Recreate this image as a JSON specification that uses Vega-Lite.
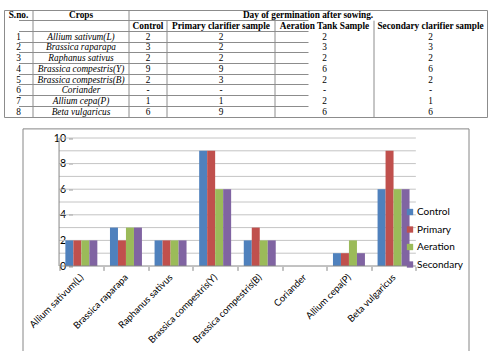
{
  "$schema": "https://vega.github.io/schema/vega-lite/v6.json",
  "background": "white",
  "padding": {"left": 3, "top": 9, "right": 0, "bottom": 0},
  "config": {
    "view": {"stroke": "#8c8c8c", "strokeWidth": 1},
    "axis": {"gridColor": "#8c8c8c", "gridWidth": 1}
  },
  "datasets": {
    "germination": [
      {"sno": 1, "crop": "Allium sativum(L)", "Control": 2, "Primary": 2, "Aeration": 2, "Secondary": 2},
      {"sno": 2, "crop": "Brassica raparapa", "Control": 3, "Primary": 2, "Aeration": 3, "Secondary": 3},
      {"sno": 3, "crop": "Raphanus sativus", "Control": 2, "Primary": 2, "Aeration": 2, "Secondary": 2},
      {"sno": 4, "crop": "Brassica compestris(Y)", "Control": 9, "Primary": 9, "Aeration": 6, "Secondary": 6},
      {"sno": 5, "crop": "Brassica compestris(B)", "Control": 2, "Primary": 3, "Aeration": 2, "Secondary": 2},
      {"sno": 6, "crop": "Coriander", "Control": null, "Primary": null, "Aeration": null, "Secondary": null},
      {"sno": 7, "crop": "Allium cepa(P)", "Control": 1, "Primary": 1, "Aeration": 2, "Secondary": 1},
      {"sno": 8, "crop": "Beta vulgaricus", "Control": 6, "Primary": 9, "Aeration": 6, "Secondary": 6}
    ],
    "headTop": [
      {"col": 1, "text": "S.no."},
      {"col": 2, "text": "Crops"},
      {"col": 3, "text": "Day of germination after sowing."}
    ],
    "headSub": [
      {"col": 3, "text": "Control"},
      {"col": 4, "text": "Primary clarifier sample"},
      {"col": 5, "text": "Aeration Tank Sample"},
      {"col": 6, "text": "Secondary clarifier sample"}
    ]
  },
  "vconcat": [
    {
      "width": 483,
      "height": 107,
      "data": {"name": "germination"},
      "resolve": {"scale": {"x": "independent"}, "axis": {"x": "independent"}},
      "layer": [
        {
          "data": {"name": "headTop"},
          "mark": {"type": "text", "font": "Liberation Serif", "fontSize": 9.3, "fontWeight": "bold", "color": "#000", "baseline": "middle"},
          "encoding": {
            "x": {"field": "col", "type": "quantitative", "axis": null,
                  "scale": {"type": "linear", "domain": [1, 2, 3], "range": [14.5, 77, 304], "zero": false, "nice": false}},
            "y": {
              "datum": -1, "type": "ordinal",
              "scale": {"type": "band", "domain": [-1, 0, 1, 2, 3, 4, 5, 6, 7, 8], "paddingInner": 0, "paddingOuter": 0},
              "axis": {"grid": true, "bandPosition": 0, "labels": false, "ticks": false, "domain": false, "title": null}
            },
            "text": {"field": "text"}
          }
        },
        {
          "data": {"name": "headSub"},
          "mark": {"type": "text", "font": "Liberation Serif", "fontSize": 9.3, "fontWeight": "bold", "color": "#000", "baseline": "middle"},
          "encoding": {
            "x": {"field": "col", "type": "quantitative", "axis": null,
                  "scale": {"type": "linear", "domain": [1, 2, 3, 4, 5, 6], "range": [14.5, 77, 144, 217, 320.5, 426.5], "zero": false, "nice": false}},
            "y": {"datum": 0, "type": "ordinal"},
            "text": {"field": "text"}
          }
        },
        {
          "mark": {"type": "text", "font": "Liberation Serif", "fontSize": 9.3, "color": "#000", "baseline": "middle"},
          "encoding": {
            "x": {"datum": 1, "type": "quantitative", "axis": null,
                  "scale": {"type": "linear", "domain": [1, 2, 3, 4, 5, 6], "range": [14.5, 77, 144, 217, 320.5, 426.5], "zero": false, "nice": false}},
            "y": {"field": "sno", "type": "ordinal"},
            "text": {"field": "sno", "type": "nominal"}
          }
        },
        {
          "mark": {"type": "text", "font": "Liberation Serif", "fontSize": 9.3, "fontStyle": "italic", "color": "#000", "baseline": "middle"},
          "encoding": {
            "x": {"datum": 2, "type": "quantitative", "axis": null,
                  "scale": {"type": "linear", "domain": [1, 2, 3, 4, 5, 6], "range": [14.5, 77, 144, 217, 320.5, 426.5], "zero": false, "nice": false}},
            "y": {"field": "sno", "type": "ordinal"},
            "text": {"field": "crop", "type": "nominal"}
          }
        },
        {
          "mark": {"type": "text", "font": "Liberation Serif", "fontSize": 9.3, "color": "#000", "baseline": "middle"},
          "encoding": {
            "x": {"datum": 3, "type": "quantitative", "axis": null,
                  "scale": {"type": "linear", "domain": [1, 2, 3, 4, 5, 6], "range": [14.5, 77, 144, 217, 320.5, 426.5], "zero": false, "nice": false}},
            "y": {"field": "sno", "type": "ordinal"},
            "text": {"field": "Control", "type": "nominal", "condition": {"test": "datum.Control == null", "value": "-"}}
          }
        },
        {
          "mark": {"type": "text", "font": "Liberation Serif", "fontSize": 9.3, "color": "#000", "baseline": "middle"},
          "encoding": {
            "x": {"datum": 4, "type": "quantitative", "axis": null,
                  "scale": {"type": "linear", "domain": [1, 2, 3, 4, 5, 6], "range": [14.5, 77, 144, 217, 320.5, 426.5], "zero": false, "nice": false}},
            "y": {"field": "sno", "type": "ordinal"},
            "text": {"field": "Primary", "type": "nominal", "condition": {"test": "datum.Primary == null", "value": "-"}}
          }
        },
        {
          "mark": {"type": "text", "font": "Liberation Serif", "fontSize": 9.3, "color": "#000", "baseline": "middle"},
          "encoding": {
            "x": {"datum": 5, "type": "quantitative", "axis": null,
                  "scale": {"type": "linear", "domain": [1, 2, 3, 4, 5, 6], "range": [14.5, 77, 144, 217, 320.5, 426.5], "zero": false, "nice": false}},
            "y": {"field": "sno", "type": "ordinal"},
            "text": {"field": "Aeration", "type": "nominal", "condition": {"test": "datum.Aeration == null", "value": "-"}}
          }
        },
        {
          "mark": {"type": "text", "font": "Liberation Serif", "fontSize": 9.3, "color": "#000", "baseline": "middle"},
          "encoding": {
            "x": {"datum": 6, "type": "quantitative", "axis": null,
                  "scale": {"type": "linear", "domain": [1, 2, 3, 4, 5, 6], "range": [14.5, 77, 144, 217, 320.5, 426.5], "zero": false, "nice": false}},
            "y": {"field": "sno", "type": "ordinal"},
            "text": {"field": "Secondary", "type": "nominal", "condition": {"test": "datum.Secondary == null", "value": "-"}}
          }
        },
        {
          "data": {"name": "headTop"},
          "transform": [{"filter": "datum.col >= 2"}],
          "mark": {"type": "rule", "color": "#8c8c8c", "strokeWidth": 1},
          "encoding": {
            "x": {"field": "col", "type": "quantitative", "axis": null,
                  "scale": {"type": "linear", "domain": [1, 2, 3, 4, 5, 6, 7], "range": [0, 29, 125, 163, 271, 370, 483], "zero": false, "nice": false}},
            "y": {"datum": -1, "type": "ordinal", "bandPosition": 0},
            "y2": {"datum": 8, "bandPosition": 1}
          }
        },
        {
          "data": {"name": "headSub"},
          "transform": [{"filter": "datum.col >= 4"}],
          "mark": {"type": "rule", "color": "#8c8c8c", "strokeWidth": 1},
          "encoding": {
            "x": {"field": "col", "type": "quantitative", "axis": null,
                  "scale": {"type": "linear", "domain": [1, 2, 3, 4, 5, 6, 7], "range": [0, 29, 125, 163, 271, 370, 483], "zero": false, "nice": false}},
            "y": {"datum": 0, "type": "ordinal", "bandPosition": 0},
            "y2": {"datum": 8, "bandPosition": 1}
          }
        }
      ]
    },
    {
      "width": 446,
      "height": 224,
      "view": {"stroke": "#868686"},
      "data": {"name": "germination"},
      "layer": [
        {
          "data": {"values": [
            {"tick": 1}, {"tick": 2}, {"tick": 3}, {"tick": 4}, {"tick": 5},
            {"tick": 6}, {"tick": 7}, {"tick": 8}, {"tick": 9}, {"tick": 10}
          ]},
          "mark": {"type": "rule", "color": "#c4c4c4", "strokeWidth": 1},
          "encoding": {
            "x": {"datum": "Allium sativum(L)", "type": "nominal", "bandPosition": 0},
            "x2": {"datum": "Beta vulgaricus", "bandPosition": 1},
            "y": {"field": "tick", "type": "quantitative"}
          }
        },
        {
          "transform": [
            {"fold": ["Control", "Primary", "Aeration", "Secondary"], "as": ["series", "value"]},
            {"filter": "datum.value != null"}
          ],
          "mark": {"type": "bar"},
          "encoding": {
            "x": {
              "field": "crop", "type": "nominal",
              "scale": {
                "domain": ["Allium sativum(L)", "Brassica raparapa", "Raphanus sativus", "Brassica compestris(Y)", "Brassica compestris(B)", "Coriander", "Allium cepa(P)", "Beta vulgaricus"],
                "paddingInner": 0, "paddingOuter": 1.5062, "align": 0.4098
              },
              "axis": {
                "orient": "bottom", "offset": -86, "tickBand": "extent",
                "labelAngle": -45, "labelPadding": 5, "tickSize": 4, "tickColor": "#868686",
                "domain": false, "grid": false, "title": null,
                "labelFont": "Lato", "labelFontSize": 9.5, "labelColor": "#000"
              }
            },
            "xOffset": {
              "field": "series", "type": "nominal",
              "scale": {"domain": ["Control", "Primary", "Aeration", "Secondary"], "paddingInner": 0, "paddingOuter": 0.79}
            },
            "y": {
              "field": "value", "type": "quantitative",
              "scale": {"domain": [-6.75, 10.75], "nice": false, "zero": false},
              "axis": {
                "values": [0, 1, 2, 3, 4, 5, 6, 7, 8, 9, 10], "offset": -50,
                "domain": false, "grid": false, "tickSize": 4, "tickColor": "#868686",
                "labelPadding": 3, "labelFont": "Lato", "labelFontSize": 10.5, "labelColor": "#000", "title": null
              }
            },
            "y2": {"datum": 0},
            "color": {
              "field": "series", "type": "nominal",
              "scale": {"domain": ["Control", "Primary", "Aeration", "Secondary"], "range": ["#4F81BD", "#C0504D", "#9BBB59", "#8064A2"]},
              "legend": {
                "orient": "none", "legendX": 401, "legendY": 197, "title": null,
                "symbolType": "square", "symbolSize": 40, "symbolStrokeWidth": 0,
                "labelFont": "Lato", "labelFontSize": 10, "labelColor": "#000",
                "labelOffset": 2, "rowPadding": 7.5
              }
            }
          }
        },
        {
          "data": {"values": [{}]},
          "mark": {"type": "rule", "color": "#868686", "strokeWidth": 1},
          "encoding": {
            "x": {"datum": "Allium sativum(L)", "type": "nominal", "bandPosition": 0},
            "x2": {"datum": "Beta vulgaricus", "bandPosition": 1},
            "y": {"datum": 0, "type": "quantitative"}
          }
        },
        {
          "data": {"values": [{}]},
          "mark": {"type": "rule", "color": "#868686", "strokeWidth": 1},
          "encoding": {
            "x": {"datum": "Allium sativum(L)", "type": "nominal", "bandPosition": 0},
            "y": {"datum": 0, "type": "quantitative"},
            "y2": {"datum": 10}
          }
        }
      ]
    }
  ],
  "spacing": 11.4,
  "bounds": "flush",
  "center": true
}
